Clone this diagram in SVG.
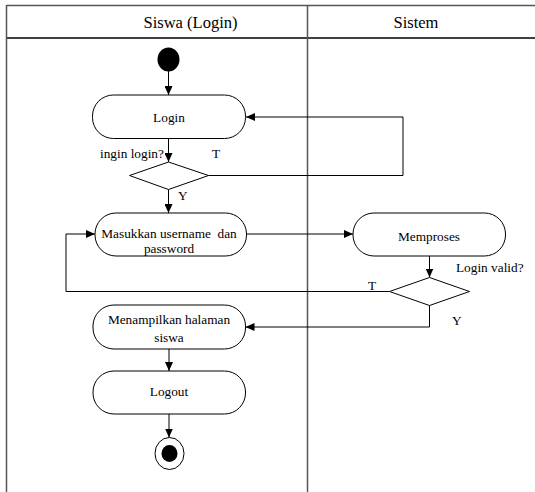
<svg xmlns="http://www.w3.org/2000/svg" width="535" height="492" viewBox="0 0 535 492">
<style>
text{font-family:'Liberation Serif','Tinos','Times New Roman','DejaVu Serif',serif;fill:#000}
.frame{fill:none;stroke:#555;stroke-width:1.5}
.hdr{font-size:16.5px;text-anchor:middle}
.act{fill:#fff;stroke:#000;stroke-width:1}
.dec{fill:#fff;stroke:#000;stroke-width:1}
.t{font-size:13.3px;text-anchor:middle}
.lbl{font-size:13.3px}
.c{fill:none;stroke:#000;stroke-width:1;marker-end:url(#ah)}
</style>
<defs>
<marker id="ah" markerWidth="9" markerHeight="8" refX="9" refY="4" orient="auto" markerUnits="userSpaceOnUse">
<path d="M0,0 L9,4 L0,8 Z" fill="#000"/>
</marker>
</defs>
<rect width="535" height="492" fill="#fff"/>
<g id="swimlanes">
<line class="frame" x1="6.5" y1="5.5" x2="535" y2="5.5"/>
<line x1="6.5" y1="38" x2="535" y2="38" stroke="#000" stroke-width="1.5"/>
<line class="frame" x1="6.5" y1="5" x2="6.5" y2="492"/>
<line class="frame" x1="307.5" y1="5" x2="307.5" y2="492"/>
<text class="hdr" x="190.5" y="28" font-family="Liberation Serif, serif">Siswa (Login)</text>
<text class="hdr" x="416" y="28" font-family="Liberation Serif, serif">Sistem</text>
</g>
<g id="connectors">
<path class="c" d="M168.5,71 L168.5,95"/>
<path class="c" d="M168.5,138.5 L168.5,162"/>
<path class="c" d="M208.5,175.5 L403,175.5 L403,117 L246,117"/>
<path class="c" d="M168.5,189.5 L168.5,213"/>
<path class="c" d="M247,234 L353,234"/>
<path class="c" d="M429.5,256 L429.5,277.5"/>
<path class="c" d="M389.5,291.5 L66,291.5 L66,234 L95,234"/>
<path class="c" d="M429.5,305.5 L429.5,327 L245.5,327"/>
<path class="c" d="M169,349 L169,371"/>
<path class="c" d="M169,414 L169,437.5"/>
<text class="lbl" x="100" y="158">ingin login?</text>
<text class="lbl" x="212" y="158">T</text>
<text class="lbl" x="178" y="200">Y</text>
<text class="lbl" x="456" y="272">Login valid?</text>
<text class="lbl" x="368" y="290">T</text>
<text class="lbl" x="452" y="325">Y</text>
</g>
<g id="start">
<ellipse cx="168.5" cy="59.5" rx="11" ry="12" fill="#000"/>
</g>
<g id="login">
<rect class="act" x="92.5" y="95" width="153" height="43.5" rx="21" ry="21"/>
<text class="t" x="169" y="121.5">Login</text>
</g>
<g id="decision-login">
<polygon class="dec" points="168.5,162 208.5,175.5 168.5,189.5 129.5,175.5"/>
</g>
<g id="masukkan">
<rect class="act" x="95" y="213" width="151.5" height="43" rx="21" ry="21"/>
<text class="t" x="169" y="237.5" xml:space="preserve">Masukkan username  dan</text>
<text class="t" x="169" y="253">password</text>
</g>
<g id="memproses">
<rect class="act" x="353" y="213" width="152.5" height="43" rx="21" ry="21"/>
<text class="t" x="429" y="240.5">Memproses</text>
</g>
<g id="decision-valid">
<polygon class="dec" points="429.5,277.5 469.5,291.5 429.5,305.5 389.5,291.5"/>
</g>
<g id="menampilkan">
<rect class="act" x="93" y="305" width="152.5" height="44" rx="21" ry="21"/>
<text class="t" x="169" y="323.5">Menampilkan halaman</text>
<text class="t" x="169" y="342">siswa</text>
</g>
<g id="logout">
<rect class="act" x="93" y="371" width="152.5" height="43" rx="21" ry="21"/>
<text class="t" x="169" y="396">Logout</text>
</g>
<g id="end">
<ellipse cx="169.5" cy="453.5" rx="14.5" ry="16" fill="#fff" stroke="#000" stroke-width="1"/>
<ellipse cx="169.5" cy="453.5" rx="8" ry="8.5" fill="#000"/>
</g>
</svg>
